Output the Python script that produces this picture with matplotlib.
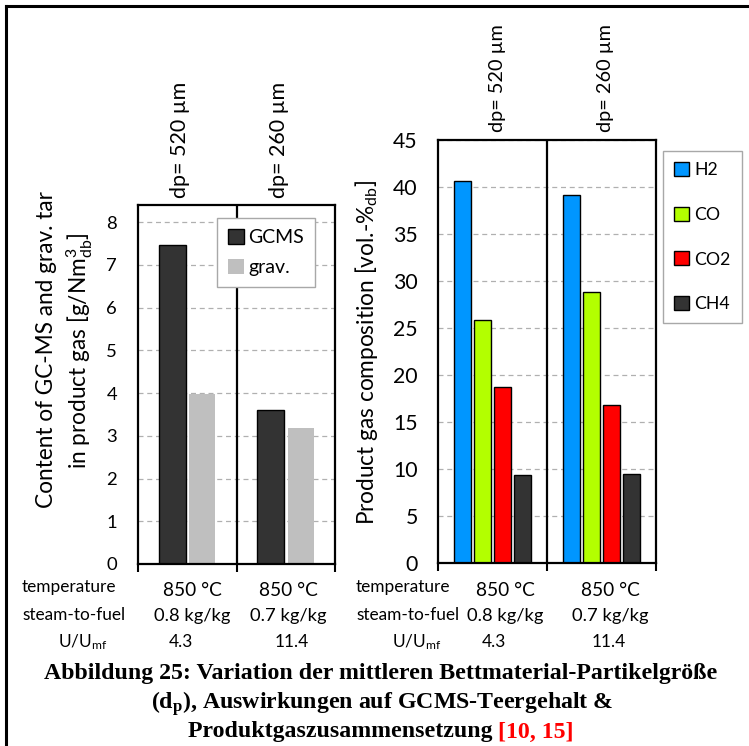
import matplotlib
matplotlib.use("Agg")
import matplotlib.pyplot as plt
from matplotlib.patches import Patch
import numpy as np

plt.rcParams['font.family'] = ['Lato', 'DejaVu Sans']
plt.rcParams['mathtext.default'] = 'regular'

# tar content per particle size
sizes = ['dp= 520 µm', 'dp= 260 µm']
gcms = [7.47, 3.6]
grav = [3.97, 3.18]

# product gas composition [vol.-% db]
gases = ['H2', 'CO', 'CO2', 'CH4']
gas_comp = {
  'H2':  [40.6, 39.1],
  'CO':  [25.9, 28.8],
  'CO2': [18.7, 16.8],
  'CH4': [9.4, 9.5],
}
gas_colors = ['#0096FF', '#B3FF00', '#FF0000', '#333333']

# operating conditions below the bars
temperature = ['850 °C', '850 °C']
steam_to_fuel = ['0.8 kg/kg', '0.7 kg/kg']
u_umf = ['4.3', '11.4']

W, H = 749, 746
fig = plt.figure(figsize=(W/100, H/100), dpi=100)

def fx(x):
  return x/W
def fy(y):
  return 1 - y/H
def box(x0, y0, x1, y1):
  return [fx(x0), fy(y1), fx(x1) - fx(x0), fy(y0) - fy(y1)]

def style_axes(ax, ymax, step, tick_fs, pad):
  ax.set_xlim(-0.5, 1.5)
  ax.set_ylim(0, ymax)
  ax.set_yticks(np.arange(0, ymax + 0.01, step))
  ax.set_xticks([-0.5, 0.5, 1.5])
  ax.set_xticklabels([])
  ax.tick_params(axis='x', direction='out', length=6, width=1.5)
  ax.tick_params(axis='y', length=0, pad=pad, labelsize=tick_fs)
  ax.yaxis.grid(True, ls=(0, (4, 3)), color='#B0B0B0', lw=0.9)
  ax.set_axisbelow(True)
  for s in ax.spines.values():
    s.set_linewidth(1.6)
  ax.axvline(0.5, color='black', lw=1.6, zorder=1)

def frame_legend(leg):
  leg.get_frame().set_edgecolor('#A8A8A8')
  leg.get_frame().set_linewidth(1.0)
  leg.set_zorder(5)

# left: tar content
ax1 = fig.add_axes(box(138, 205, 335, 564))
x = np.arange(len(sizes))
ax1.bar(x - 0.152, gcms, 0.275, color='#333333', edgecolor='black', lw=1.0, zorder=2)
ax1.bar(x + 0.152, grav, 0.26, color='#BFBFBF', zorder=2)
style_axes(ax1, 8.4, 1, 13.3, 15)
ax1.set_yticks(np.arange(0, 9, 1))
leg1 = ax1.legend(
  [Patch(facecolor='#333333', edgecolor='black', lw=1.0), Patch(facecolor='#BFBFBF')],
  ['GCMS', 'grav.'], loc='upper left', bbox_to_anchor=(fx(217), fy(218)),
  bbox_transform=fig.transFigure, borderaxespad=0, fancybox=False, fontsize=14,
  handlelength=0.82, handleheight=0.82, handletextpad=0.25, labelspacing=0.65,
  borderpad=0.55, framealpha=1)
frame_legend(leg1)

# right: gas composition
ax2 = fig.add_axes(box(438, 140, 656, 563))
bw, step = 0.151, 0.1835
for i, g in enumerate(gases):
  ax2.bar(x + (i - 1.5)*step, gas_comp[g], bw, color=gas_colors[i],
          edgecolor='black', lw=1.0, zorder=2, label=g)
style_axes(ax2, 45, 5, 15.3, 14.5)
leg2 = ax2.legend(
  loc='upper left', bbox_to_anchor=(fx(663), fy(151)), bbox_transform=fig.transFigure,
  borderaxespad=0, fancybox=False, fontsize=12.7, handlelength=0.85, handleheight=0.85,
  handletextpad=0.3, labelspacing=1.62, borderpad=0.62, framealpha=1)
frame_legend(leg2)

# axis titles
fig.text(fx(47), fy(350), 'Content of GC-MS and grav. tar', rotation=90,
         ha='center', va='center', fontsize=16.3)
fig.text(fx(80), fy(351), 'in product gas [g/Nm$^3_{db}$]', rotation=90,
         ha='center', va='center', fontsize=16.3)
fig.text(fx(367), fy(352), 'Product gas composition [vol.-%$_{db}$]', rotation=90,
         ha='center', va='center', fontsize=16.3)

# particle size labels above the groups
for xc, s in zip([180, 279], sizes):
  fig.text(fx(xc), fy(198), s, rotation=90, ha='center', va='bottom', fontsize=15.5)
for xc, s in zip([498, 606], sizes):
  fig.text(fx(xc), fy(132), s, rotation=90, ha='center', va='bottom', fontsize=14.3)

# condition table
for x0, xu in [(22, 83), (356, 417)]:
  fig.text(fx(x0), fy(587), 'temperature', ha='left', va='center', fontsize=12.4)
  fig.text(fx(x0), fy(615), 'steam-to-fuel', ha='left', va='center', fontsize=12.4)
  fig.text(fx(xu), fy(642), 'U/U$_{mf}$', ha='center', va='center', fontsize=12.4)
for cols, ucols in [((192, 288), (181, 292)), ((505, 610), (494, 609))]:
  for i in range(2):
    fig.text(fx(cols[i]), fy(591), temperature[i], ha='center', va='center', fontsize=13.8)
    fig.text(fx(cols[i]), fy(616), steam_to_fuel[i], ha='center', va='center', fontsize=13.2)
    fig.text(fx(ucols[i]), fy(642), u_umf[i], ha='center', va='center', fontsize=12.4)

# caption
cap = dict(family='Liberation Serif', weight='bold', fontsize=17.2)
fig.text(fx(381), fy(673), 'Abbildung 25: Variation der mittleren Bettmaterial-Partikelgröße',
         ha='center', va='center', **cap)
fig.text(fx(382), fy(704), '(d$_p$), Auswirkungen auf GCMS-Teergehalt &',
         ha='center', va='center', **cap)
t3a = fig.text(0, fy(732), 'Produktgaszusammensetzung ', ha='left', va='center', **cap)
t3b = fig.text(0, fy(732), '[10, 15]', color='#FF0000', ha='left', va='center', **cap)
fig.canvas.draw()
wa = t3a.get_window_extent().width
wb = t3b.get_window_extent().width
left = 381 - (wa + wb)/2
t3a.set_x(fx(left))
t3b.set_x(fx(left + wa))

# outer frame (top and left edges)
fig.add_artist(plt.Line2D([fx(6), 1], [fy(6), fy(6)], color='black', lw=2.2))
fig.add_artist(plt.Line2D([fx(6), fx(6)], [fy(6), 0], color='black', lw=2.2))

fig.savefig('out.png', dpi=100)
